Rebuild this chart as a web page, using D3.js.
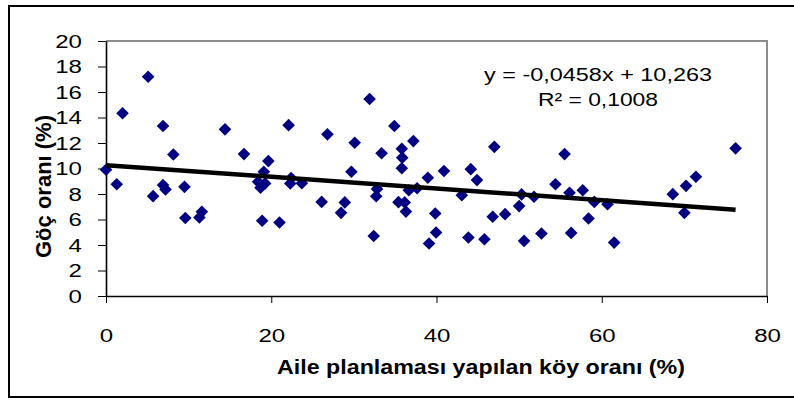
<!DOCTYPE html>
<html>
<head>
<meta charset="utf-8">
<script src="https://cdn.jsdelivr.net/npm/d3@7"></script>
<style>
	body { margin: 0; background: #fff; }
	svg { display: block; }
	text { font-family: "Liberation Sans", Arial, sans-serif; }
</style>
</head>
<body>
<svg id="chart" width="794" height="400"></svg>
<script>
// aile planlaması yapılan köy oranı (%) / göç oranı (%)
const planning = [0, 1.3, 2.0, 5.1, 5.7, 6.9, 6.9, 7.2, 8.15, 9.5, 9.6, 11.3, 11.6, 14.4, 16.7,
	19.65, 19.1, 18.4, 19.25, 18.7, 18.9, 21.0, 22.1, 22.4, 22.3, 23.7, 26.1, 26.8, 28.9, 28.45,
	29.7, 30.1, 31.9, 32.4, 32.8, 32.7, 33.35, 34.9, 35.8, 35.85, 35.8, 37.2, 35.4, 36.15, 36.3,
	36.65, 37.65, 38.95, 39.1, 39.85, 39.95, 40.9, 43.06, 43.86, 44.15, 44.9, 45.8, 46.8, 47.0,
	48.3, 50.0, 50.3, 50.6, 51.8, 52.7, 54.4, 55.5, 56.1, 56.3, 57.7, 58.4, 59.1, 60.7, 61.5,
	68.6, 70.0, 70.2, 71.4, 76.2];
const migration = [9.9, 8.77, 14.33, 17.2, 7.83, 13.33, 8.7, 8.36, 11.1, 8.56, 6.12, 6.16, 6.6, 13.07, 11.13,
	10.58, 9.74, 8.96, 8.83, 8.5, 5.9, 5.77, 13.4, 9.25, 8.83, 8.85, 7.38, 12.68, 7.34, 6.52,
	9.74, 12.02, 15.45, 4.71, 8.4, 7.82, 11.2, 13.33, 11.55, 10.85, 10.02, 12.15, 7.36, 7.34, 6.62,
	8.3, 8.45, 9.28, 4.12, 6.47, 4.98, 9.8, 7.91, 4.59, 9.95, 9.09, 4.45, 6.21, 11.7,
	6.42, 7.05, 7.97, 4.32, 7.78, 4.9, 8.77, 11.13, 8.09, 4.95, 8.3, 6.08, 7.38, 7.2, 4.19,
	7.99, 6.52, 8.64, 9.35, 11.58];

const xTicks = [0, 20, 40, 60, 80];
const yTicks = [0, 2, 4, 6, 8, 10, 12, 14, 16, 18, 20];

// trendline as printed on the chart
const slope = -0.0458, intercept = 10.263;
const trendLabels = ["y = -0,0458x + 10,263", "R² = 0,1008"];

const xTitle = "Aile planlaması yapılan köy oranı (%)";
const yTitle = "Göç oranı (%)";

const svg = d3.select("#chart");

// outer chart frame
svg.append("rect")
	.attr("x", 9).attr("y", 6)
	.attr("width", 790).attr("height", 391)
	.attr("fill", "#fff")
	.attr("stroke", "#000")
	.attr("stroke-width", 2);

const x = d3.scaleLinear().domain([0, 80]).range([106, 767]);
const y = d3.scaleLinear().domain([0, 20]).range([296, 41]);

// plot area border (top / right are grey)
svg.append("path")
	.attr("d", `M${x(0)},${y(20)}H${x(80)}V${y(0)}`)
	.attr("fill", "none")
	.attr("stroke", "#8c8c8c")
	.attr("stroke-width", 2);

const stretch = 1.3;

const yAxis = svg.append("g")
	.attr("transform", `translate(${x(0)},0)`)
	.call(d3.axisLeft(y).tickValues(yTicks).tickSize(8).tickSizeOuter(0));
yAxis.select(".domain").attr("stroke-width", 1.6);
yAxis.selectAll(".tick text")
	.attr("x", -24 / stretch)
	.attr("dy", "0.34em")
	.attr("transform", `scale(${stretch},1)`)
	.attr("font-size", 18.5)
	.attr("fill", "#000");

const xAxis = svg.append("g")
	.attr("transform", `translate(0,${y(0)})`)
	.call(d3.axisBottom(x).tickValues(xTicks).tickSize(7).tickSizeOuter(0));
xAxis.select(".domain").attr("stroke-width", 1.6);
xAxis.selectAll(".tick text")
	.attr("y", 46)
	.attr("dy", 0)
	.attr("transform", `scale(${stretch},1)`)
	.attr("font-size", 18.5)
	.attr("fill", "#000");

// points
const diamond = "M0,-6.3L6.3,0L0,6.3L-6.3,0Z";
svg.append("g")
	.attr("fill", "#000080")
	.selectAll("path")
	.data(d3.zip(planning, migration))
	.join("path")
	.attr("d", diamond)
	.attr("transform", d => `translate(${x(d[0])},${y(d[1])})`);

// linear trendline over the data range
const xMin = d3.min(planning), xMax = d3.max(planning);
svg.append("line")
	.attr("x1", x(xMin)).attr("y1", y(intercept + slope * xMin))
	.attr("x2", x(xMax)).attr("y2", y(intercept + slope * xMax))
	.attr("stroke", "#000")
	.attr("stroke-width", 4.5);

svg.append("g")
	.attr("text-anchor", "middle")
	.attr("font-size", 18.5)
	.selectAll("text")
	.data(trendLabels)
	.join("text")
	.attr("x", 598)
	.attr("y", (d, i) => 81 + i * 25)
	.attr("textLength", (d, i) => i === 0 ? 228 : 120)
	.attr("lengthAdjust", "spacingAndGlyphs")
	.text(d => d);

// axis titles
svg.append("text")
	.attr("x", 481).attr("y", 374)
	.attr("text-anchor", "middle")
	.attr("font-size", 19.5)
	.attr("font-weight", "bold")
	.attr("textLength", 408)
	.attr("lengthAdjust", "spacingAndGlyphs")
	.text(xTitle);

svg.append("text")
	.attr("transform", "translate(51,186.5) rotate(-90)")
	.attr("text-anchor", "middle")
	.attr("font-size", 22)
	.attr("font-weight", "bold")
	.text(yTitle);
</script>
</body>
</html>
